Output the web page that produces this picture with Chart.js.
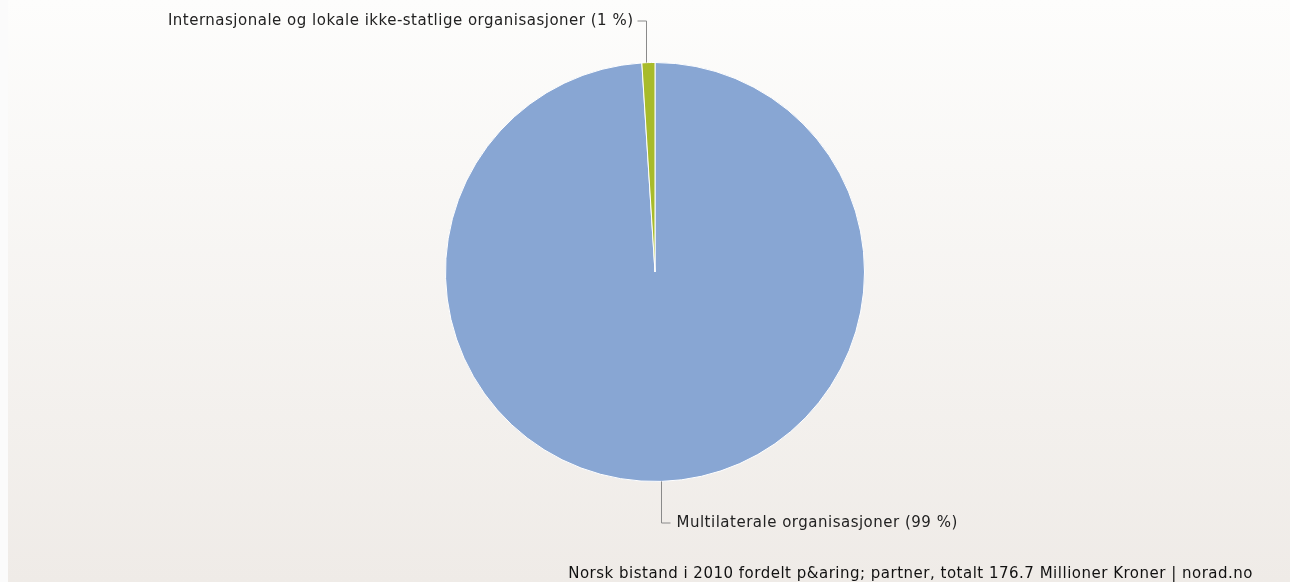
<!DOCTYPE html>
<html>
<head>
<meta charset="utf-8">
<script src="https://cdn.jsdelivr.net/npm/chart.js@4"></script>
<style>
  html, body { margin: 0; padding: 0; background: #fbfbfb; }
  #wrap {
    position: absolute; left: 8px; top: 0; width: 1282px; height: 582px;
    background: linear-gradient(to bottom, #fdfdfc 0%, #efebe7 100%);
  }
  #box { position: absolute; left: -8px; top: 0; width: 1290px; height: 582px; }
</style>
</head>
<body>
<div id="wrap"><div id="box"><canvas id="pie"></canvas></div></div>
<script>
const partnerLabels = ['Multilaterale organisasjoner', 'Internasjonale og lokale ikke-statlige organisasjoner'];
const partnerShares = [99, 1];
const sliceColors = ['#88a6d3', '#a8bb2a'];
const footerText = 'Norsk bistand i 2010 fordelt p&aring; partner, totalt 176.7 Millioner Kroner | norad.no';

const labelFont = '15px "DejaVu Sans"';

// draws the callout lines and labels next to each slice
const calloutPlugin = {
  id: 'callouts',
  afterDatasetsDraw(chart) {
    const ctx = chart.ctx;
    const arcs = chart.getDatasetMeta(0).data;
    ctx.save();
    ctx.font = labelFont;
    ctx.letterSpacing = '0.5px';
    ctx.fillStyle = '#222';
    ctx.strokeStyle = '#8a8a8a';
    ctx.lineWidth = 1;
    ctx.textBaseline = 'middle';
    arcs.forEach((arc, i) => {
      const mid = (arc.startAngle + arc.endAngle) / 2;
      const x0 = arc.x + Math.cos(mid) * arc.outerRadius;
      const y0 = arc.y + Math.sin(mid) * arc.outerRadius;
      const text = partnerLabels[i] + ' (' + partnerShares[i] + ' %)';
      const above = Math.sin(mid) < 0;
      const yEnd = above ? arc.y - arc.outerRadius - 42 : arc.y + arc.outerRadius + 41;
      const xl = Math.round(x0) - (above ? 2 : 1) + 0.5;
      const xEnd = above ? xl - 9 : xl + 9;
      ctx.beginPath();
      ctx.moveTo(xl, y0);
      ctx.lineTo(xl, yEnd + 0.5);
      ctx.lineTo(xEnd, yEnd + 0.5);
      ctx.stroke();
      ctx.textAlign = above ? 'right' : 'left';
      ctx.fillText(text, above ? xEnd - 4 : xEnd + 6, yEnd + 1);
    });
    ctx.textAlign = 'right';
    ctx.fillStyle = '#111';
    ctx.fillText(footerText, 1253, 574);
    ctx.restore();
  }
};

new Chart(document.getElementById('pie'), {
  type: 'pie',
  data: {
    labels: partnerLabels,
    datasets: [{
      data: partnerShares,
      backgroundColor: sliceColors,
      borderColor: '#ffffff',
      borderWidth: 1,
      hoverOffset: 0
    }]
  },
  options: {
    responsive: true,
    maintainAspectRatio: false,
    animation: false,
    layout: { padding: { top: 62, bottom: 100, left: 20, right: 0 } },
    plugins: {
      legend: { display: false },
      tooltip: { enabled: false }
    }
  },
  plugins: [calloutPlugin]
});
</script>
</body>
</html>
